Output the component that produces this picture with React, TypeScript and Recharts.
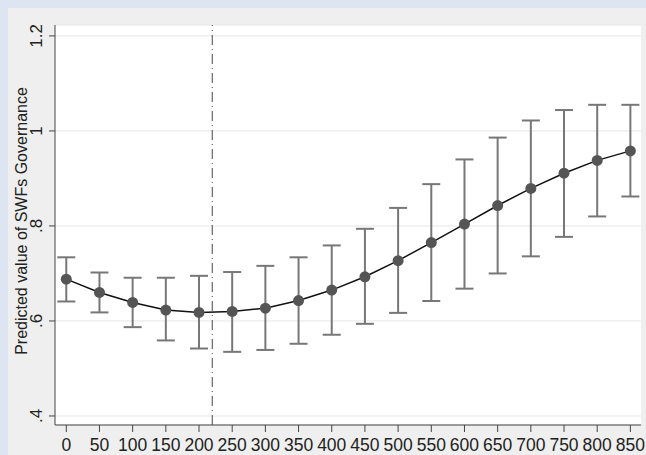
import { CartesianGrid, ErrorBar, Label, Line, LineChart, ReferenceLine, XAxis, YAxis } from "recharts";

const exposure = [0, 50, 100, 150, 200, 250, 300, 350, 400, 450, 500, 550, 600, 650, 700, 750, 800, 850];
const predicted = [0.688, 0.66, 0.639, 0.623, 0.618, 0.62, 0.627, 0.643, 0.665, 0.693, 0.727, 0.765, 0.804, 0.843, 0.879, 0.911, 0.938, 0.958];
const ciLow = [0.641, 0.618, 0.587, 0.559, 0.542, 0.535, 0.539, 0.552, 0.571, 0.594, 0.617, 0.642, 0.668, 0.7, 0.736, 0.777, 0.82, 0.862];
const ciHigh = [0.734, 0.702, 0.691, 0.691, 0.695, 0.703, 0.716, 0.734, 0.759, 0.794, 0.838, 0.888, 0.94, 0.986, 1.022, 1.044, 1.055, 1.055];
const yTicks = [0.4, 0.6, 0.8, 1, 1.2];
const threshold = 220;

const data = exposure.map((x, i) => ({
  x,
  y: predicted[i],
  err: [predicted[i] - ciLow[i], ciHigh[i] - predicted[i]],
}));

const font = "'Liberation Sans', Arial, sans-serif";

// Stata-style labels: ".4", ".6", "1", "1.2"
const fmt = (v: number) => String(Math.round(v * 10) / 10).replace(/^0\./, ".");

function YTick({ x, y, payload }: any) {
  const cx = x - 10;
  return (
    <text
      x={cx}
      y={y}
      transform={`rotate(-90 ${cx} ${y})`}
      textAnchor="middle"
      dominantBaseline="central"
      fontSize={17}
      fontFamily={font}
      fill="#222"
    >
      {fmt(payload.value)}
    </text>
  );
}

export default function App() {
  return (
    <div style={{ position: "absolute", left: 0, top: 0, width: 646, height: 455, background: "#dde5f3" }}>
      <div style={{ position: "absolute", left: 8, top: 8, width: 638, height: 447, background: "#efefef" }}>
        <LineChart width={638} height={447} data={data} margin={{ top: 17, right: 5, left: 0, bottom: 0 }}>
          <CartesianGrid vertical={false} stroke="#e6e6e6" fill="#ffffff" />
          <XAxis
            dataKey="x"
            type="number"
            domain={[-17, 866]}
            ticks={exposure}
            interval={0}
            height={30}
            allowDataOverflow
            stroke="#444"
            tickSize={7}
            tickMargin={7}
            tick={{ fontSize: 17.5, fill: "#222", fontFamily: font }}
          />
          <YAxis
            type="number"
            domain={[0.381, 1.223]}
            ticks={yTicks}
            width={47}
            allowDataOverflow
            stroke="#444"
            tickSize={6}
            tick={<YTick />}
          >
            <Label
              content={({ viewBox }: any) => {
                const cy = viewBox.y + viewBox.height / 2 - 4;
                return (
                  <text
                    x={13}
                    y={cy}
                    transform={`rotate(-90 13 ${cy})`}
                    textAnchor="middle"
                    dominantBaseline="central"
                    fontSize={16}
                    fontFamily={font}
                    fill="#222"
                  >
                    Predicted value of SWFs Governance
                  </text>
                );
              }}
            />
          </YAxis>
          <ReferenceLine x={threshold} stroke="#666" strokeWidth={1.2} strokeDasharray="10 4 1 4" />
          <Line
            dataKey="y"
            type="linear"
            stroke="#111"
            strokeWidth={1.5}
            dot={{ r: 5.5, fill: "#555", stroke: "#555", strokeWidth: 0 }}
            activeDot={false}
            isAnimationActive={false}
          >
            <ErrorBar dataKey="err" width={9} stroke="#777" strokeWidth={2} direction="y" />
          </Line>
        </LineChart>
      </div>
    </div>
  );
}
